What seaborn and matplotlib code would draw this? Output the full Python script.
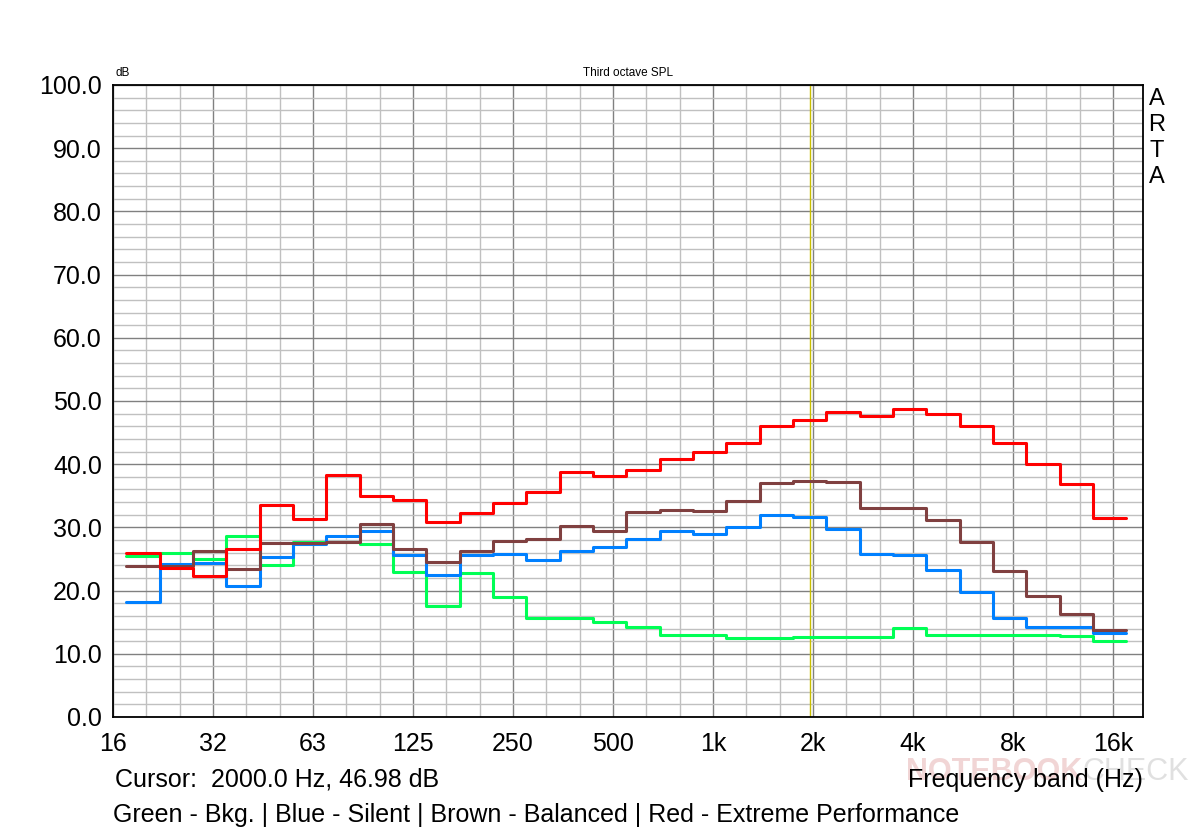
import numpy as np
import pandas as pd
import matplotlib
matplotlib.use("Agg")
import matplotlib.pyplot as plt
from matplotlib.ticker import FixedLocator, MultipleLocator, NullFormatter, FuncFormatter
import seaborn as sns

# third octave bands, 20 Hz .. 16 kHz
bands = ["20", "25", "31.5", "40", "50", "63", "80", "100", "125", "160",
         "200", "250", "315", "400", "500", "630", "800", "1k", "1.25k", "1.6k",
         "2k", "2.5k", "3.15k", "4k", "5k", "6.3k", "8k", "10k", "12.5k", "16k"]

bkg = [25.4, 26.0, 25.0, 28.6, 24.1, 27.7, 27.7, 27.4, 23.0, 17.5,
       22.8, 19.0, 15.6, 15.6, 15.1, 14.2, 13.0, 13.0, 12.5, 12.5,
       12.7, 12.7, 12.7, 14.1, 13.0, 12.9, 13.0, 13.0, 12.8, 12.1]
silent = [18.2, 24.2, 24.4, 20.7, 25.3, 27.3, 28.6, 29.5, 25.6, 22.5,
          25.6, 25.8, 24.9, 26.2, 26.9, 28.2, 29.5, 29.0, 30.1, 32.0,
          31.7, 29.8, 25.8, 25.7, 23.3, 19.7, 15.6, 14.2, 14.2, 13.3]
balanced = [23.9, 23.9, 26.3, 23.4, 27.6, 27.6, 27.7, 30.6, 26.6, 24.6,
            26.3, 27.8, 28.2, 30.3, 29.5, 32.4, 32.8, 32.6, 34.2, 37.0,
            37.4, 37.2, 33.0, 33.1, 31.2, 27.7, 23.1, 19.1, 16.3, 13.8]
extreme = [26.0, 23.6, 22.3, 26.6, 33.5, 31.4, 38.3, 35.0, 34.3, 30.9,
           32.2, 33.9, 35.6, 38.8, 38.1, 39.1, 40.8, 42.0, 43.4, 46.0,
           47.0, 48.3, 47.7, 48.7, 48.0, 46.1, 43.3, 40.0, 36.9, 31.5]

modes = ["Bkg.", "Silent", "Balanced", "Extreme Performance"]
colors = ["#00FF55", "#0080FF", "#804040", "#FF0000"]

tick_labels = ["16", "32", "63", "125", "250", "500", "1k", "2k", "4k", "8k", "16k"]
cursor_hz = 2000.0
cursor_db = 46.98

# band centres (exact base-10 third octaves) and their edges
centres = 1000 * 2 ** (np.arange(-17, 13) / 3)
lo = centres * 2 ** (-1 / 6)
hi = centres * 2 ** (1 / 6)

rows = []
for mode, vals in zip(modes, [bkg, silent, balanced, extreme]):
    for b, l, h, v in zip(bands, lo, hi, vals):
        rows.append({"mode": mode, "band": b, "freq": l, "spl": v})
        rows.append({"mode": mode, "band": b, "freq": h, "spl": v})
df = pd.DataFrame(rows)

sns.set_theme(style="white")
plt.rcParams["font.family"] = ["Liberation Sans", "DejaVu Sans"]
plt.rcParams["text.color"] = "black"

W, H = 1200, 832
fig = plt.figure(figsize=(12, 8.32), dpi=100)
ax = fig.add_axes([113 / W, 1 - 717 / H, 1030 / W, 632 / H])

ax.axvline(cursor_hz, color="#C8BE00", linewidth=1.0, zorder=1.5)
sns.lineplot(data=df, x="freq", y="spl", hue="mode", hue_order=modes,
             palette=colors, sort=False, estimator=None, units="mode",
             linewidth=2.2, legend=False, ax=ax)
ax.set_xlabel("")
ax.set_ylabel("")

ax.set_xscale("log")
ax.set_xlim(16, 16 * 2 ** 10.3)
ax.set_ylim(0, 100)

# grid: octaves / third octaves, 10 dB / 2 dB
oct_ticks = 16 * 2.0 ** np.arange(0, 11)
third_ticks = 16 * 2 ** (np.arange(0, 31) / 3)
ax.set_xticks(oct_ticks, tick_labels)
ax.xaxis.set_minor_locator(FixedLocator(third_ticks))
ax.xaxis.set_minor_formatter(NullFormatter())
ax.yaxis.set_major_locator(MultipleLocator(10))
ax.yaxis.set_minor_locator(MultipleLocator(2))
ax.yaxis.set_major_formatter(FuncFormatter(lambda v, p: f"{v:.1f}"))
ax.grid(which="minor", color="#c0c0c0", linewidth=1.0)
ax.grid(which="major", color="#808080", linewidth=1.0)
ax.set_axisbelow(True)
ax.tick_params(which="both", length=0, labelsize=18, colors="black")
ax.tick_params(axis="y", pad=8)
ax.tick_params(axis="x", pad=11)
for s in ax.spines.values():
    s.set_color("black")
    s.set_linewidth(1.3)

# watermark
fig.text(1082 / W, 1 - 772 / H, "NOTEBOOK", fontsize=22, fontweight="bold",
         color="#e6b4b4", alpha=0.55, ha="right", va="center", zorder=0)
fig.text(1082 / W, 1 - 772 / H, "CHECK", fontsize=22,
         color="#c8c8c8", alpha=0.55, ha="left", va="center", zorder=0)

fig.text(115 / W, 1 - 73 / H, "dB", fontsize=8.5, ha="left", va="center")
fig.text(628 / W, 1 - 73 / H, "Third octave SPL", fontsize=8.5, ha="center", va="center")
for i, ch in enumerate("ARTA"):
    fig.text(1157 / W, 1 - (99 + 26 * i) / H, ch, fontsize=17, ha="center", va="center")

fig.text(115 / W, 1 - 780 / H, f"Cursor:  {cursor_hz:.1f} Hz, {cursor_db:.2f} dB",
         fontsize=18, ha="left", va="center")
fig.text(1143 / W, 1 - 780 / H, "Frequency band (Hz)", fontsize=18,
         ha="right", va="center")
fig.text(113 / W, 1 - 815 / H,
         "Green - Bkg. | Blue - Silent | Brown - Balanced | Red - Extreme Performance",
         fontsize=18, ha="left", va="center")

fig.savefig("out.png", dpi=100, facecolor="white")
